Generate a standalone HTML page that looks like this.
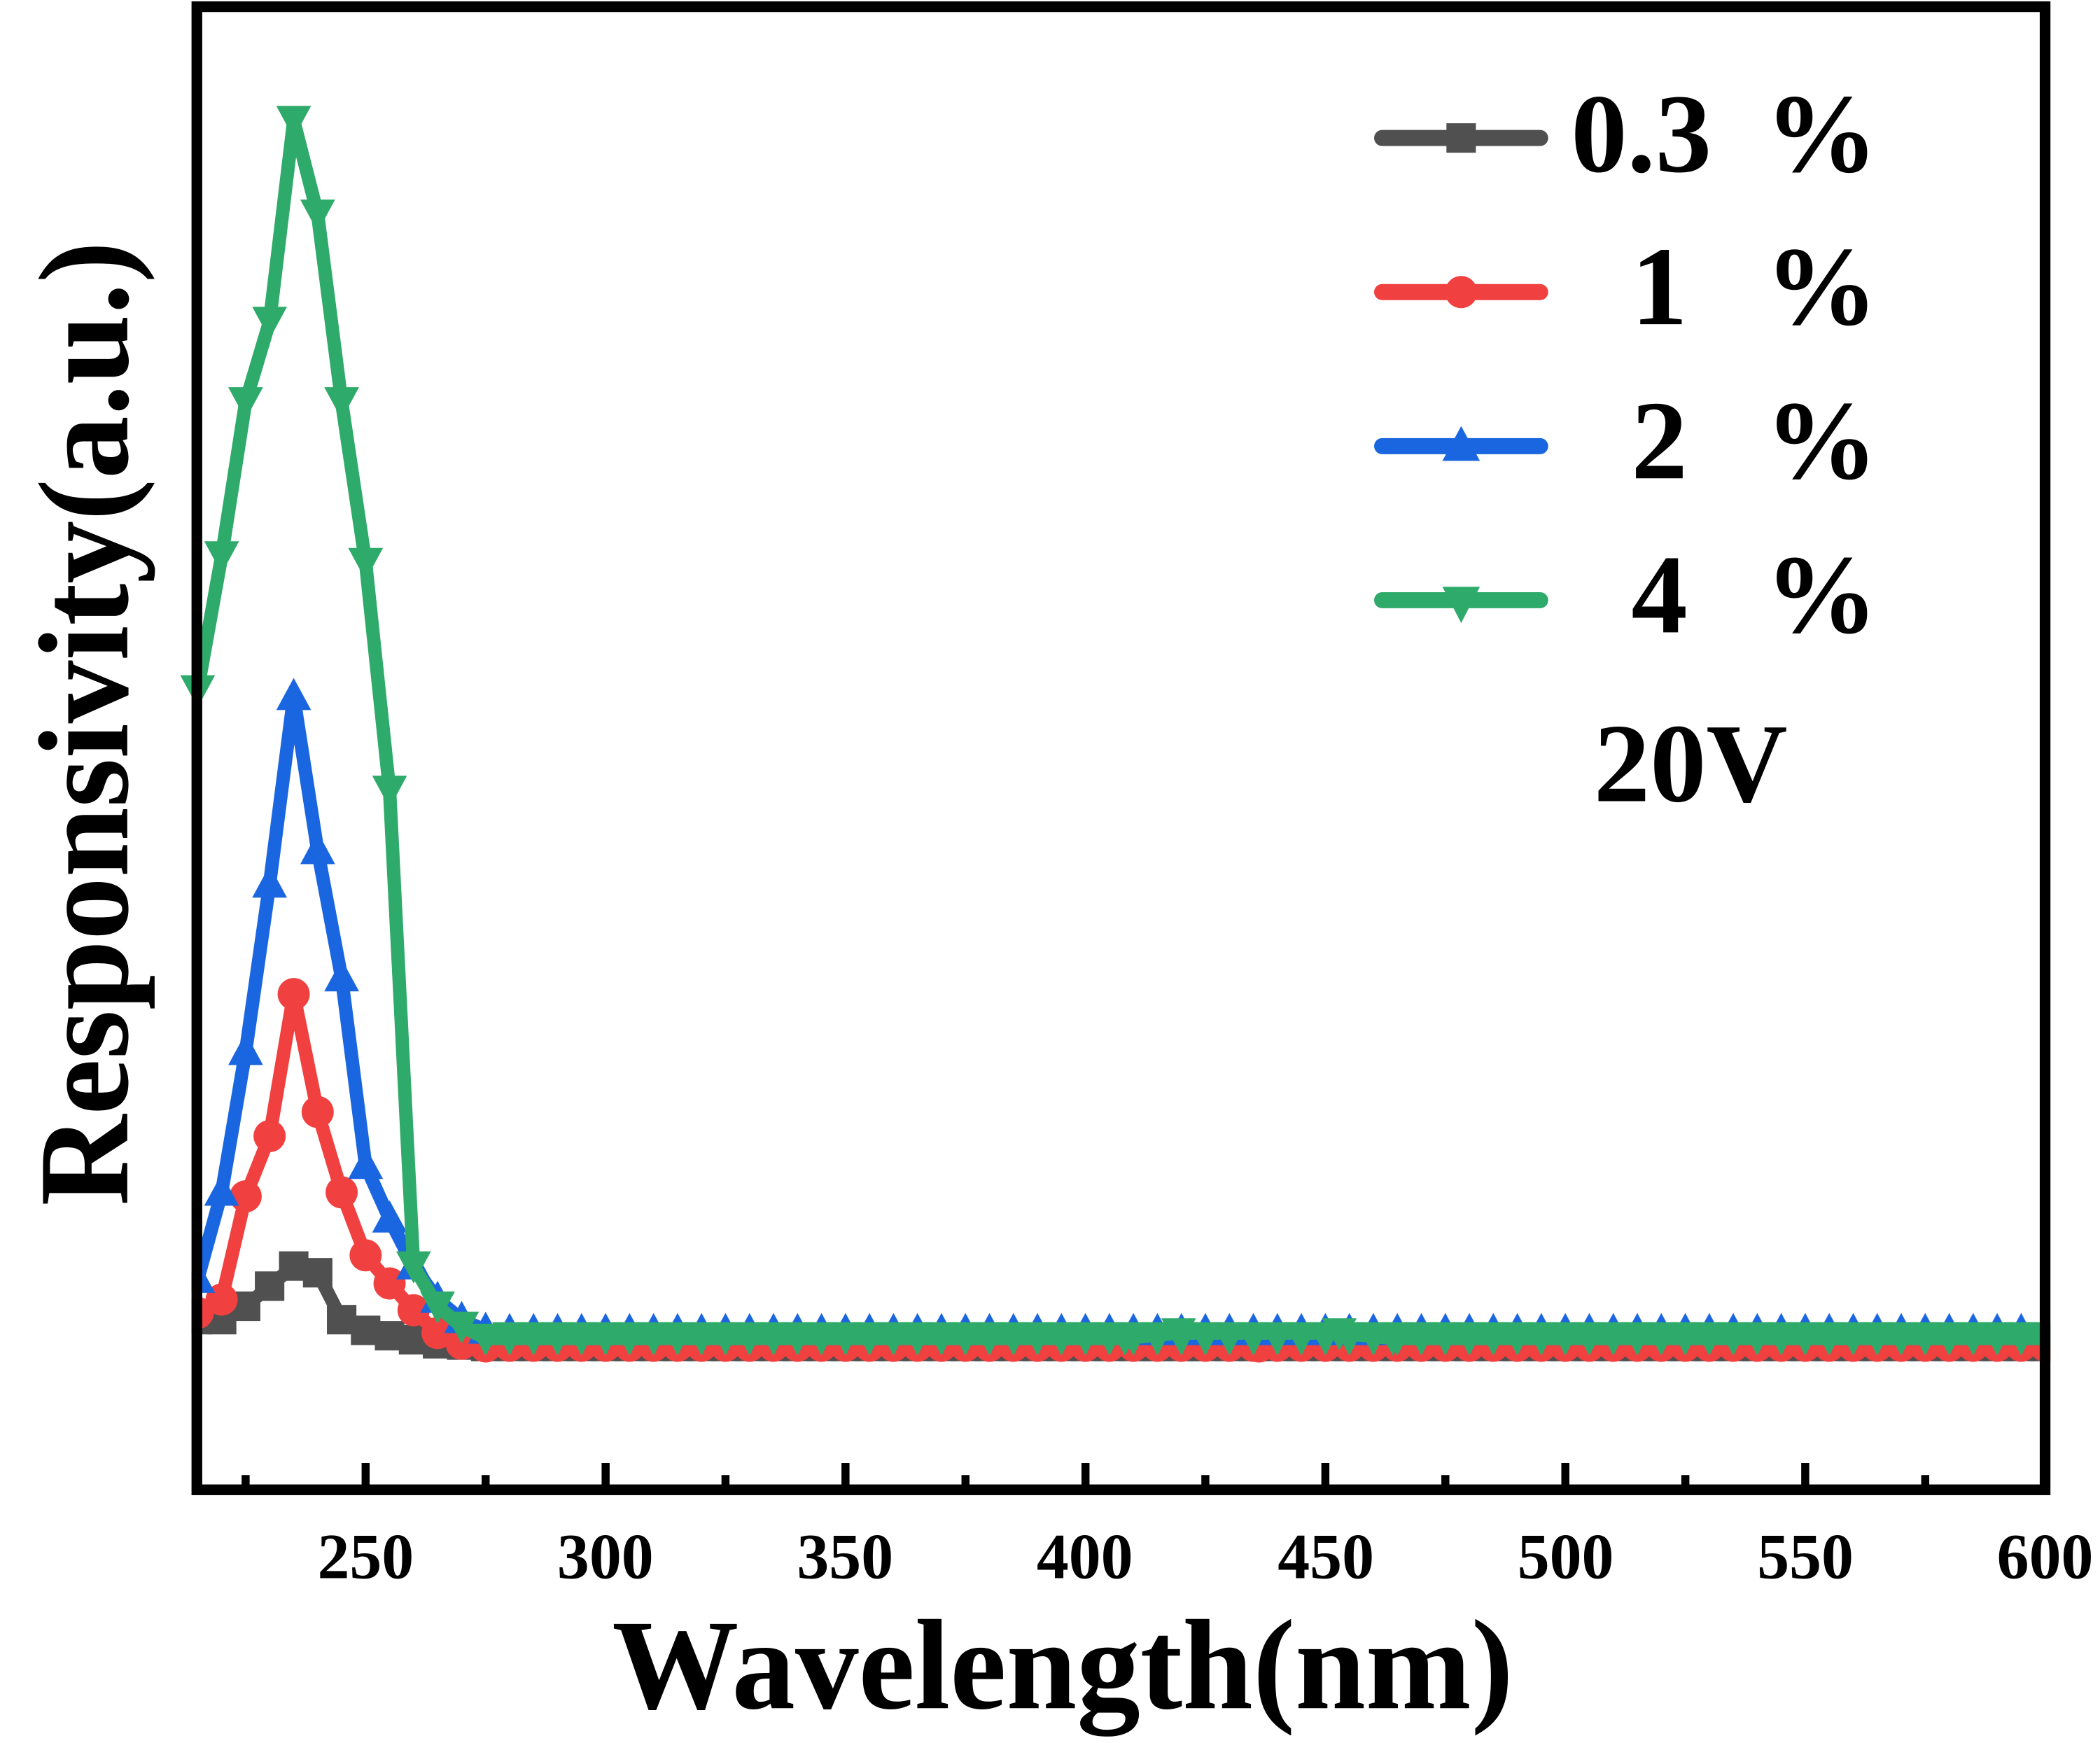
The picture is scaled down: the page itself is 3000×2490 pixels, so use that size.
<!DOCTYPE html>
<html><head><meta charset="utf-8"><style>html,body{margin:0;padding:0;background:#fff}svg{display:block}</style></head>
<body>
<svg width="3000" height="2490" viewBox="0 0 1568 1301" preserveAspectRatio="none" xmlns="http://www.w3.org/2000/svg" font-family="'Liberation Serif', serif" font-weight="bold">
<defs>
<marker id="mg" markerUnits="userSpaceOnUse" markerWidth="28" markerHeight="28" refX="14" refY="14"><rect x="3" y="3" width="22" height="22" fill="#505050"/></marker>
<marker id="mr" markerUnits="userSpaceOnUse" markerWidth="28" markerHeight="28" refX="14" refY="14"><circle cx="14" cy="14" r="12" fill="#f04040"/></marker>
<marker id="mb" markerUnits="userSpaceOnUse" markerWidth="30" markerHeight="30" refX="15" refY="15"><polygon points="15,1 28,25 2,25" fill="#1a66e0"/></marker>
<marker id="mgr" markerUnits="userSpaceOnUse" markerWidth="30" markerHeight="30" refX="15" refY="15"><polygon points="2,4 28,4 15,28" fill="#2eaa6a"/></marker>
<pattern id="pg" patternUnits="userSpaceOnUse" x="362.6" y="985" width="35.83" height="40"><rect x="6.9" y="9" width="22" height="22" fill="#505050"/></pattern>
<pattern id="pg2" patternUnits="userSpaceOnUse" x="380.5" y="985" width="35.83" height="40"><rect x="6.9" y="9" width="22" height="22" fill="#505050"/></pattern>
<pattern id="pr" patternUnits="userSpaceOnUse" x="362.6" y="985" width="35.83" height="40"><circle cx="17.9" cy="20" r="11.5" fill="#f04040"/></pattern>
<pattern id="pr2" patternUnits="userSpaceOnUse" x="380.5" y="985" width="35.83" height="40"><circle cx="17.9" cy="20" r="11.5" fill="#f04040"/></pattern>
<pattern id="pb" patternUnits="userSpaceOnUse" x="362.6" y="973" width="35.83" height="40"><polygon points="17.9,7 30.9,31 4.9,31" fill="#1a66e0"/></pattern>
<pattern id="pb2" patternUnits="userSpaceOnUse" x="380.5" y="973" width="35.83" height="40"><polygon points="17.9,7 30.9,31 4.9,31" fill="#1a66e0"/></pattern>
<pattern id="pgr" patternUnits="userSpaceOnUse" x="362.6" y="979" width="35.83" height="40"><polygon points="4.9,8 30.9,8 17.9,33" fill="#2eaa6a"/></pattern>
<pattern id="pgr2" patternUnits="userSpaceOnUse" x="380.5" y="979" width="35.83" height="40"><polygon points="4.9,8 30.9,8 17.9,33" fill="#2eaa6a"/></pattern>
</defs>
<rect width="1568" height="1301" fill="#fff"/>
<g fill="none" stroke-width="10" stroke-linejoin="round">
<polyline stroke="#505050" marker-start="url(#mg)" marker-mid="url(#mg)" points="147.6,985 165.5,985 183.4,975 201.3,960 219.3,945 237.2,950 255.1,985 273,993 290.9,997 308.8,1000 326.7,1003 344.7,1004 362.6,1005 860,1005 875,1001 890,1005 1527,1005"/>
<rect x="362.6" y="985" width="1170" height="40" fill="url(#pg)" stroke="none"/>
<rect x="380.5" y="985" width="1152" height="40" fill="url(#pg2)" stroke="none"/>
<polyline stroke="#f04040" marker-start="url(#mr)" marker-mid="url(#mr)" points="147.6,980 165.5,970 183.4,893 201.3,848 219.3,742 237.2,830 255.1,890 273,937 290.9,958 308.8,978 326.7,995 344.7,1003 362.6,1005 940,1005 965,999 990,1002 1527,1005"/>
<rect x="362.6" y="985" width="1170" height="40" fill="url(#pr)" stroke="none"/>
<rect x="380.5" y="985" width="1152" height="40" fill="url(#pr2)" stroke="none"/>
<polyline stroke="#1a66e0" marker-start="url(#mb)" marker-mid="url(#mb)" points="147.6,955 165.5,890 183.4,785 201.3,660 219.3,520 237.2,635 255.1,730 273,870 290.9,910 308.8,945 326.7,970 344.7,985 362.6,993 1527,993"/>
<rect x="362.6" y="973" width="1170" height="40" fill="url(#pb)" stroke="none"/>
<rect x="380.5" y="973" width="1152" height="40" fill="url(#pb2)" stroke="none"/>
<polyline stroke="#2eaa6a" marker-start="url(#mgr)" marker-mid="url(#mgr)" points="147.6,515 165.5,415 183.4,300 201.3,240 219.3,90 237.2,160 255.1,300 273,420 290.9,590 308.8,945 326.7,975 344.7,990 362.6,999 840,999 880,995 1000,995 1040,999 1527,999"/>
<rect x="362.6" y="979" width="1170" height="40" fill="url(#pgr)" stroke="none"/>
<rect x="380.5" y="979" width="1152" height="40" fill="url(#pgr2)" stroke="none"/>
</g>
<rect x="1531" y="900" width="37" height="200" fill="#fff"/>
<rect x="0" y="900" width="143" height="200" fill="#fff"/>
<rect x="147" y="5" width="1380" height="1107" fill="none" stroke="#000" stroke-width="8"/>
<g stroke="#000" stroke-width="6">
<line x1="183.4" y1="1110" x2="183.4" y2="1101"/>
<line x1="273" y1="1110" x2="273" y2="1092"/>
<line x1="362.6" y1="1110" x2="362.6" y2="1101"/>
<line x1="452.2" y1="1110" x2="452.2" y2="1092"/>
<line x1="541.7" y1="1110" x2="541.7" y2="1101"/>
<line x1="631.3" y1="1110" x2="631.3" y2="1092"/>
<line x1="720.9" y1="1110" x2="720.9" y2="1101"/>
<line x1="810.5" y1="1110" x2="810.5" y2="1092"/>
<line x1="900" y1="1110" x2="900" y2="1101"/>
<line x1="989.6" y1="1110" x2="989.6" y2="1092"/>
<line x1="1079.2" y1="1110" x2="1079.2" y2="1101"/>
<line x1="1168.8" y1="1110" x2="1168.8" y2="1092"/>
<line x1="1258.4" y1="1110" x2="1258.4" y2="1101"/>
<line x1="1347.9" y1="1110" x2="1347.9" y2="1092"/>
<line x1="1437.5" y1="1110" x2="1437.5" y2="1101"/>
</g>
<g font-size="48" text-anchor="middle" fill="#000">
<text x="273" y="1178">250</text><text x="452" y="1178">300</text><text x="631" y="1178">350</text><text x="810" y="1178">400</text><text x="990" y="1178">450</text><text x="1169" y="1178">500</text><text x="1348" y="1178">550</text><text x="1527" y="1178">600</text>
</g>
<text x="457" y="1275" font-size="96" textLength="673" lengthAdjust="spacingAndGlyphs">Wavelength(nm)</text>
<text transform="translate(95,900) rotate(-90)" font-size="96" textLength="720" lengthAdjust="spacingAndGlyphs">Responsivity(a.u.)</text>
<g stroke-width="12" stroke-linecap="round">
<line x1="1032" y1="103" x2="1150" y2="103" stroke="#505050"/>
<line x1="1032" y1="218" x2="1150" y2="218" stroke="#f04040"/>
<line x1="1032" y1="333" x2="1150" y2="333" stroke="#1a66e0"/>
<line x1="1032" y1="448" x2="1150" y2="448" stroke="#2eaa6a"/>
</g>
<rect x="1080" y="92" width="22" height="22" fill="#505050"/>
<circle cx="1091" cy="218" r="12" fill="#f04040"/>
<polygon points="1091,318 1105,344 1077,344" fill="#1a66e0"/>
<polygon points="1077,438 1105,438 1091,465" fill="#2eaa6a"/>
<g font-size="84" fill="#000">
<text x="1173" y="128">0.3</text><text x="1318" y="128">%</text>
<text x="1218" y="242">1</text><text x="1318" y="242">%</text>
<text x="1218" y="357">2</text><text x="1318" y="357">%</text>
<text x="1218" y="472">4</text><text x="1318" y="472">%</text>
<text x="1190" y="598">20V</text>
</g>
</svg>
</body></html>
